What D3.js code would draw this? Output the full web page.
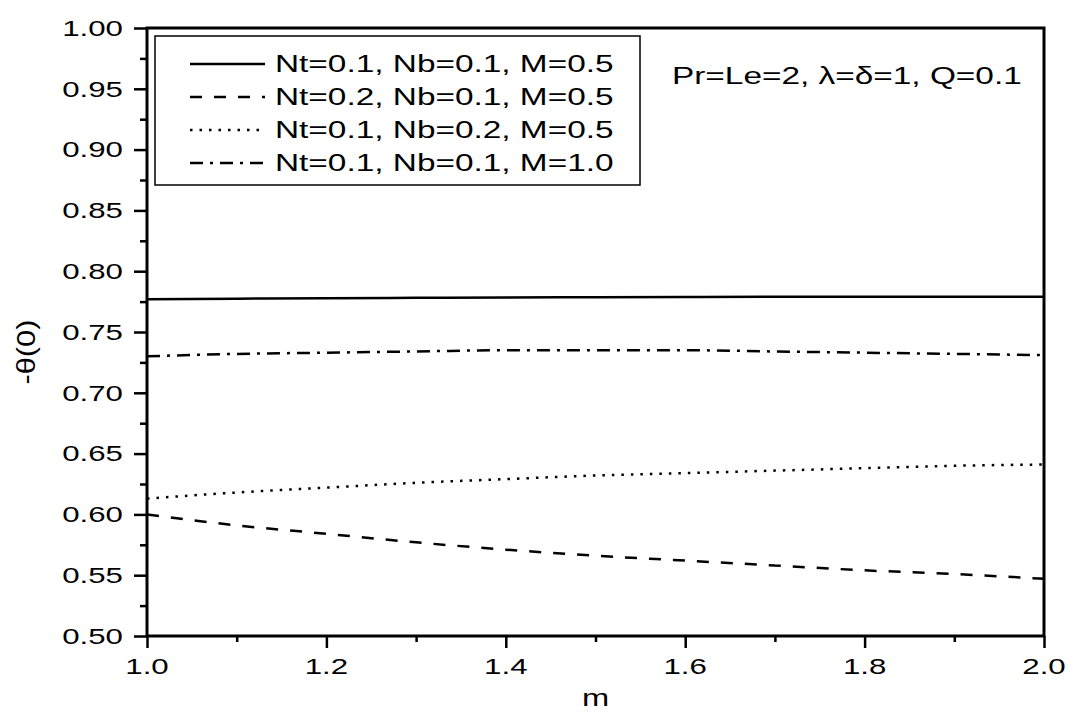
<!DOCTYPE html>
<html>
<head>
<meta charset="utf-8">
<script src="https://cdn.jsdelivr.net/npm/d3@7"></script>
<style>
  body { margin: 0; background: #fff; }
  text { font-family: "Liberation Sans", Arial, sans-serif; fill: #000; }
</style>
</head>
<body>
<div id="chart"></div>
<script>
// values
const mValues = [1.0, 1.1, 1.2, 1.3, 1.4, 1.5, 1.6, 1.7, 1.8, 1.9, 2.0];
const seriesLabels = [
    "Nt=0.1, Nb=0.1, M=0.5",
    "Nt=0.2, Nb=0.1, M=0.5",
    "Nt=0.1, Nb=0.2, M=0.5",
    "Nt=0.1, Nb=0.1, M=1.0"
];
const solidValues   = [0.777, 0.7774, 0.7778, 0.7781, 0.7784, 0.7786, 0.7788, 0.7789, 0.779, 0.779, 0.779];
const dashedValues  = [0.600, 0.591, 0.584, 0.577, 0.571, 0.566, 0.562, 0.558, 0.554, 0.551, 0.547];
const dottedValues  = [0.613, 0.618, 0.622, 0.626, 0.629, 0.632, 0.634, 0.636, 0.638, 0.640, 0.641];
const dashDotValues = [0.730, 0.732, 0.733, 0.734, 0.735, 0.735, 0.735, 0.734, 0.733, 0.732, 0.731];
const xTicks = [1.0, 1.2, 1.4, 1.6, 1.8, 2.0];
const yTicks = [0.50, 0.55, 0.60, 0.65, 0.70, 0.75, 0.80, 0.85, 0.90, 0.95, 1.00];
const annotation = "Pr=Le=2, \u03bb=\u03b4=1, Q=0.1";

const width = 1071, height = 713;
const margin = {top: 28, right: 27, bottom: 77, left: 147};
const stretch = 1.42; // the reference text is drawn wide

const svg = d3.select("#chart").append("svg")
    .attr("width", width)
    .attr("height", height);

const x = d3.scaleLinear().domain([1, 2]).range([margin.left, width - margin.right]);
const y = d3.scaleLinear().domain([0.5, 1]).range([height - margin.bottom, margin.top]);

// wide text helper
function wideText(parent, px, py, str, size, anchor) {
    return parent.append("text")
        .attr("transform", `translate(${px},${py}) scale(${stretch},1)`)
        .attr("dy", "0.35em")
        .style("font-size", size + "px")
        .style("text-anchor", anchor)
        .text(str);
}

// curves
const series = [
    {values: solidValues, dash: null},
    {values: dashedValues, dash: "12,12"},
    {values: dottedValues, dash: "2.5,7"},
    {values: dashDotValues, dash: "13,7,3,7"}
];

const line = d3.line()
    .x((d, i) => x(mValues[i]))
    .y(d => y(d))
    .curve(d3.curveMonotoneX);

series.forEach(s => {
    svg.append("path")
        .datum(s.values)
        .attr("d", line)
        .style("fill", "none")
        .style("stroke", "#000")
        .style("stroke-width", 2.5)
        .style("stroke-dasharray", s.dash);
});

// axes
const xAxis = d3.axisBottom(x).tickValues(xTicks).tickSize(12).tickFormat("");
const yAxis = d3.axisLeft(y).tickValues(yTicks).tickSize(13).tickFormat("");
const xMinor = d3.axisBottom(x).tickValues(d3.range(1.1, 2, 0.2)).tickSize(6).tickFormat("");
const yMinor = d3.axisLeft(y).tickValues(d3.range(0.525, 1, 0.05)).tickSize(7).tickFormat("");

[
    [xAxis, `translate(0,${height - margin.bottom})`],
    [xMinor, `translate(0,${height - margin.bottom})`],
    [yAxis, `translate(${margin.left},0)`],
    [yMinor, `translate(${margin.left},0)`]
].forEach(([ax, tr]) => {
    const g = svg.append("g").attr("transform", tr).call(ax);
    g.select(".domain").remove();
    g.selectAll("line").style("stroke", "#000").style("stroke-width", 2.5);
});

// frame
svg.append("rect")
    .attr("x", margin.left)
    .attr("y", margin.top)
    .attr("width", x(2) - x(1))
    .attr("height", y(0.5) - y(1))
    .style("fill", "none")
    .style("stroke", "#000")
    .style("stroke-width", 3);

// tick labels
xTicks.forEach(t => wideText(svg, x(t), 666, t.toFixed(1), 22, "middle"));
yTicks.forEach(t => wideText(svg, 123, y(t), t.toFixed(2), 22, "end"));

// axis titles
wideText(svg, x(1.5), 698, "m", 23, "middle");
svg.append("text")
    .attr("transform", `translate(26,352) rotate(-90)`)
    .attr("dy", "0.35em")
    .attr("textLength", 65)
    .attr("lengthAdjust", "spacingAndGlyphs")
    .style("font-size", "25px")
    .style("text-anchor", "middle")
    .text("-\u03b8(0)");

// legend
const legend = svg.append("g");
legend.append("rect")
    .attr("x", 155).attr("y", 36)
    .attr("width", 485).attr("height", 149)
    .style("fill", "#fff")
    .style("stroke", "#000")
    .style("stroke-width", 1.5);

seriesLabels.forEach((label, i) => {
    const ly = 64 + i * 33;
    legend.append("line")
        .attr("x1", 190).attr("x2", 265)
        .attr("y1", ly).attr("y2", ly)
        .style("stroke", "#000")
        .style("stroke-width", 2.5)
        .style("stroke-dasharray", series[i].dash);
    wideText(legend, 275, ly, label, 23.5, "start");
});

wideText(svg, 672, 76, annotation, 23.5, "start");
</script>
</body>
</html>
